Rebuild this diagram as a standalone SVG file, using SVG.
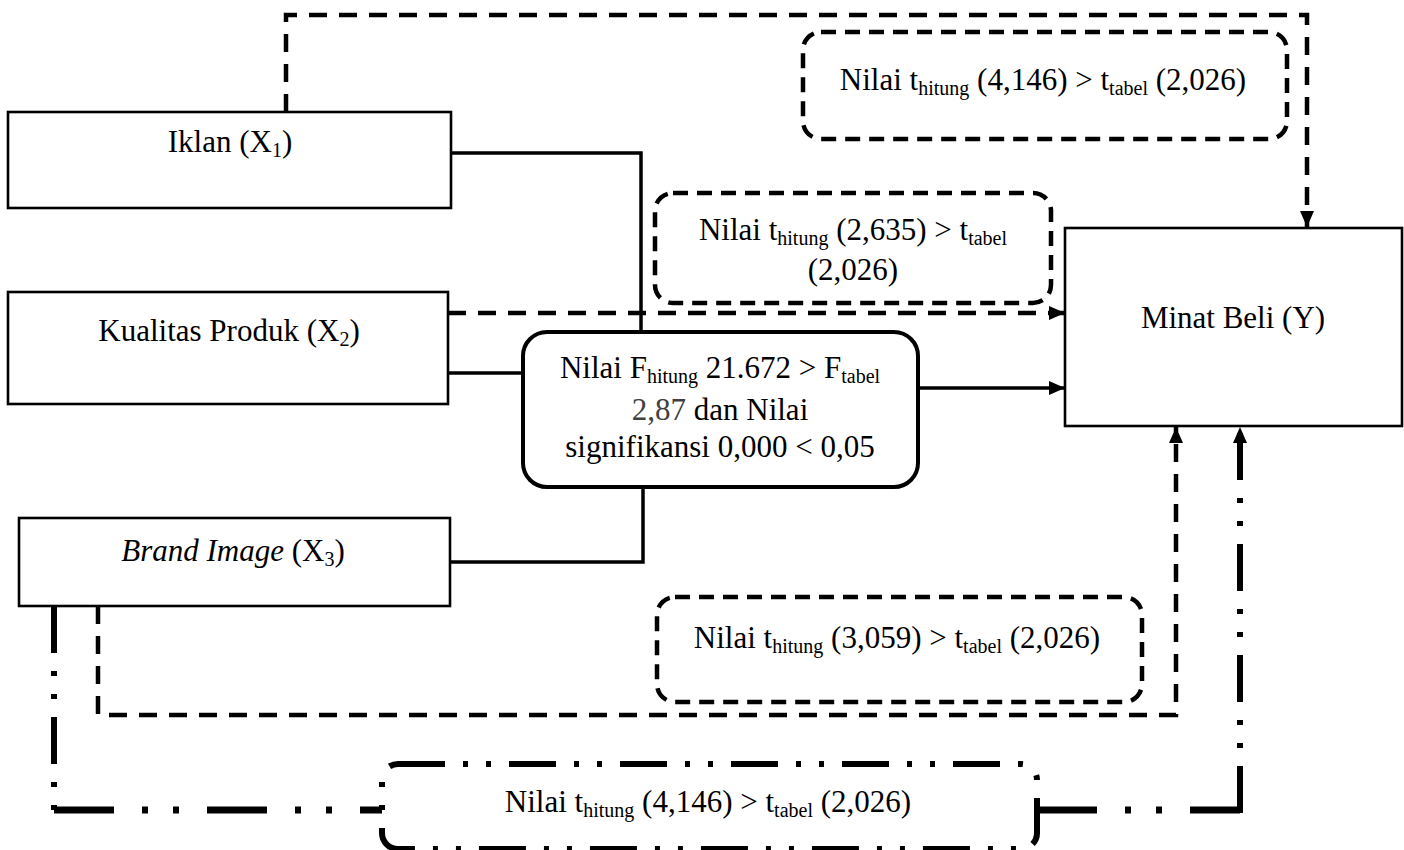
<svg xmlns="http://www.w3.org/2000/svg" width="1404" height="850" viewBox="0 0 1404 850">
<defs>
<style>
text{font-family:"Liberation Serif","Times New Roman",serif;font-size:31px;fill:#000}
.sub{font-size:20px}
.node{fill:#fff;stroke:#000;stroke-width:2.6}
.solid{fill:none;stroke:#000;stroke-width:3.5}
.dash{fill:none;stroke:#000;stroke-width:4.5;stroke-dasharray:18 12}
.dbox{fill:none;stroke:#000;stroke-width:4.5;stroke-dasharray:15 9}
.ddv{fill:none;stroke:#000;stroke-width:6;stroke-dasharray:47 18 5 18 5 18}
.ddh{fill:none;stroke:#000;stroke-width:7;stroke-dasharray:60 28 6 25 6 28}
</style>
<marker id="arr" viewBox="0 0 16 14" markerWidth="16" markerHeight="14" refX="16" refY="7" orient="auto" markerUnits="userSpaceOnUse">
<path d="M0,0 L16,7 L0,14 z" fill="#000"/>
</marker>
</defs>

<g id="connectors">
<!-- Iklan to Minat (dashed, top) -->
<path class="dash" d="M286,112 L286,15 L1307,15 L1307,227" marker-end="url(#arr)"/>
<!-- Iklan solid to F box -->
<path class="solid" d="M451,153 L641,153 L641,332"/>
<!-- Kualitas dashed to Minat -->
<path class="dash" d="M448,313 L1065,313" marker-end="url(#arr)"/>
<!-- Kualitas solid to F box -->
<path class="solid" d="M448,373 L523,373"/>
<!-- F box to Minat -->
<path class="solid" d="M918,388 L1065,388" marker-end="url(#arr)"/>
<!-- Brand solid to F box -->
<path class="solid" d="M450,562 L643,562 L643,487"/>
<!-- Brand dashed to Minat -->
<path class="dash" d="M98,606 L98,715 L1176,715 L1176,427" marker-end="url(#arr)"/>
<!-- Brand dash-dot to Minat -->
<path class="ddv" d="M54,606 L54,810"/>
<path class="ddh" d="M54,810 L382,810"/>
<path class="ddh" d="M1037,810 L1240,810"/>
<path class="ddv" d="M1240,813 L1240,427" marker-end="url(#arr)"/>
</g>

<g id="node-iklan">
<rect class="node" x="8" y="112" width="443" height="96"/>
<text x="230" y="152" text-anchor="middle">Iklan (X<tspan class="sub" dy="5">1</tspan><tspan dy="-5">)</tspan></text>
</g>

<g id="node-kualitas">
<rect class="node" x="8" y="292" width="440" height="112"/>
<text x="229" y="341" text-anchor="middle">Kualitas Produk (X<tspan class="sub" dy="5">2</tspan><tspan dy="-5">)</tspan></text>
</g>

<g id="node-brand">
<rect class="node" x="19" y="518" width="431" height="88"/>
<text x="233" y="561" text-anchor="middle"><tspan font-style="italic">Brand Image</tspan> (X<tspan class="sub" dy="5">3</tspan><tspan dy="-5">)</tspan></text>
</g>

<g id="node-minat">
<rect class="node" x="1065" y="228" width="337" height="198" stroke-width="3"/>
<text x="1233" y="328" text-anchor="middle">Minat Beli (Y)</text>
</g>

<g id="node-f">
<rect x="523" y="332" width="395" height="155" rx="24" fill="#fff" stroke="#000" stroke-width="4"/>
<text x="720" y="378" text-anchor="middle">Nilai F<tspan class="sub" dy="5">hitung</tspan><tspan dy="-5"> 21.672 &gt; F</tspan><tspan class="sub" dy="5">tabel</tspan></text>
<text x="720" y="420" text-anchor="middle"><tspan fill="#404040">2,87</tspan> dan Nilai</text>
<text x="720" y="457" text-anchor="middle">signifikansi 0,000 &lt; 0,05</text>
</g>

<g id="label-x1">
<rect class="dbox" x="803" y="32" width="484" height="107" rx="18"/>
<text x="1043" y="90" text-anchor="middle">Nilai t<tspan class="sub" dy="5">hitung</tspan><tspan dy="-5"> (4,146) &gt; t</tspan><tspan class="sub" dy="5">tabel</tspan><tspan dy="-5"> (2,026)</tspan></text>
</g>

<g id="label-x2">
<rect class="dbox" x="655" y="193" width="396" height="110" rx="18"/>
<text x="853" y="240" text-anchor="middle">Nilai t<tspan class="sub" dy="5">hitung</tspan><tspan dy="-5"> (2,635) &gt; t</tspan><tspan class="sub" dy="5">tabel</tspan></text>
<text x="853" y="280" text-anchor="middle">(2,026)</text>
</g>

<g id="label-x3">
<rect class="dbox" x="657" y="597" width="485" height="105" rx="18"/>
<text x="897" y="648" text-anchor="middle">Nilai t<tspan class="sub" dy="5">hitung</tspan><tspan dy="-5"> (3,059) &gt; t</tspan><tspan class="sub" dy="5">tabel</tspan><tspan dy="-5"> (2,026)</tspan></text>
</g>

<g id="label-x3b">
<rect class="ddv" x="382" y="764" width="655" height="85" rx="16"/>
<text x="708" y="812" text-anchor="middle">Nilai t<tspan class="sub" dy="5">hitung</tspan><tspan dy="-5"> (4,146) &gt; t</tspan><tspan class="sub" dy="5">tabel</tspan><tspan dy="-5"> (2,026)</tspan></text>
</g>
</svg>
